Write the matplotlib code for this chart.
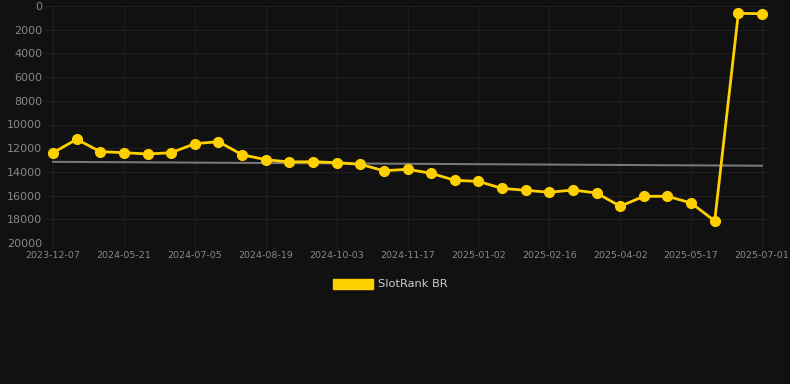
import matplotlib
matplotlib.use("Agg")
import matplotlib.pyplot as plt
from matplotlib.patches import Patch

tick_labels = ["2023-12-07", "2024-05-21", "2024-07-05", "2024-08-19", "2024-10-03",
               "2024-11-17", "2025-01-02", "2025-02-16", "2025-04-02", "2025-05-17", "2025-07-01"]
rank_values = [12380, 11250, 12290, 12380, 12490, 12380, 11620, 11450, 12550, 12970,
               13160, 13140, 13220, 13360, 13900, 13780, 14120, 14710, 14800, 15390,
               15550, 15720, 15530, 15780, 16900, 16060, 16060, 16620, 18140, 620, 650]
trend_values = [13150, 13480]
series_name = "SlotRank BR"

bg = "#111111"
fig = plt.figure(figsize=(7.9, 3.84), dpi=100, facecolor=bg)
ax = fig.add_axes([45/790, 1-243/384, 725/790, 237/384], facecolor=bg)

x = list(range(len(rank_values)))
ax.plot([x[0], x[-1]], trend_values, color="#777777", lw=1.5, zorder=2)
ax.plot(x, rank_values, color="#FFD000", lw=2.0, marker="o", markersize=7,
        markerfacecolor="#FFD000", markeredgecolor="#FFD000", zorder=3)

ax.set_xlim(-0.34, 30.34)
ax.set_ylim(20000, 0)
ax.set_yticks(range(0, 20001, 2000))
ax.set_xticks(x[::3])
ax.set_xticklabels(tick_labels)
ax.grid(True, color="#1f1f1f", lw=0.8)
for s in ax.spines.values():
    s.set_visible(False)
ax.tick_params(axis="y", length=0, pad=2, labelsize=8, labelcolor="#888888")
ax.tick_params(axis="x", length=4, color="#1f1f1f", pad=2, labelsize=6.8, labelcolor="#888888")

fig.legend(handles=[Patch(facecolor="#FFD000", edgecolor="#FFD000")], labels=[series_name],
           loc="center", bbox_to_anchor=(390/790, 1-284/384), frameon=False,
           handlelength=3.5, handleheight=1.0, fontsize=8.2, labelcolor="#cccccc",
           handletextpad=0.45)

fig.savefig("out.png", dpi=100, facecolor=bg)
